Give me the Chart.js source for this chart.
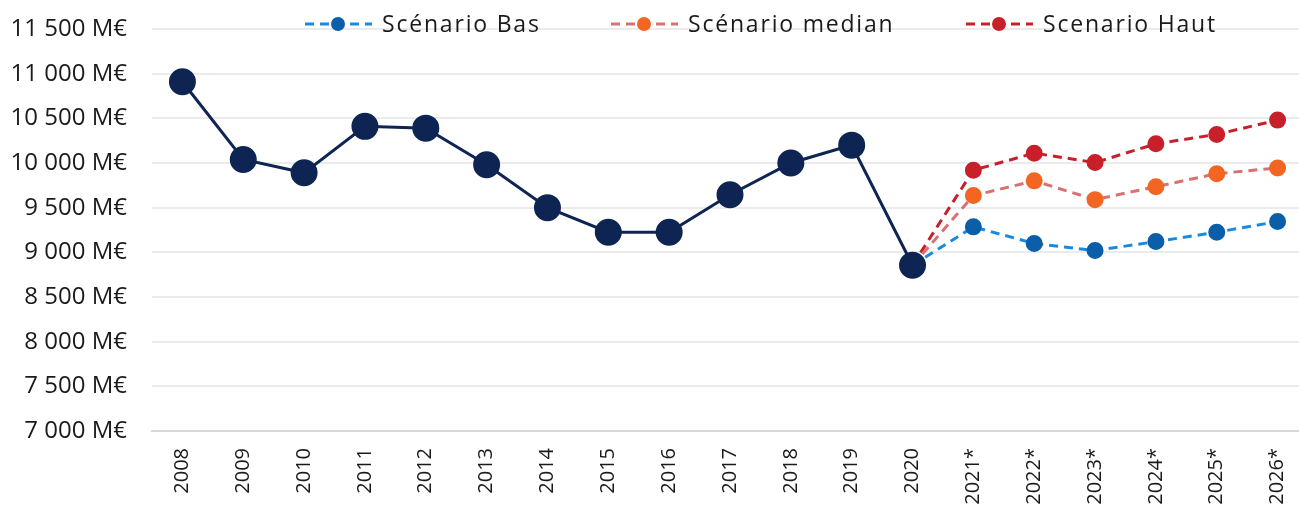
<!DOCTYPE html>
<html>
<head>
<meta charset="utf-8">
<script src="https://cdn.jsdelivr.net/npm/chart.js@4.4.1/dist/chart.umd.min.js"></script>
<style>
  html, body { margin: 0; padding: 0; background: #fff; overflow: hidden; }
  canvas { display: block; }
</style>
</head>
<body>
<canvas id="chartCanvas" width="1310" height="507"></canvas>
<script>
const years = ["2008", "2009", "2010", "2011", "2012", "2013", "2014", "2015", "2016", "2017",
  "2018", "2019", "2020", "2021*", "2022*", "2023*", "2024*", "2025*", "2026*"];

const historique = [10910, 10040, 9890, 10410, 10390, 9980, 9500, 9225, 9225, 9645,
  10000, 10200, 8855, null, null, null, null, null, null];

// scenarios start from the 2020 value
const scenarioBas = [null, null, null, null, null, null, null, null, null, null,
  null, null, 8855, 9285, 9100, 9020, 9120, 9225, 9345];
const scenarioMedian = [null, null, null, null, null, null, null, null, null, null,
  null, null, 8855, 9635, 9800, 9590, 9735, 9880, 9945];
const scenarioHaut = [null, null, null, null, null, null, null, null, null, null,
  null, null, 8855, 9920, 10110, 10005, 10215, 10320, 10480];

const yTicks = { min: 7000, max: 11500, step: 500 };

function fmt(v) {
  return String(v).replace(/\B(?=(\d{3})+(?!\d))/g, " ") + " M€";
}

function scenario(label, data, lineColor, pointColor) {
  return {
    label: label,
    data: data,
    borderColor: lineColor,
    backgroundColor: pointColor,
    pointBackgroundColor: pointColor,
    pointBorderColor: pointColor,
    borderWidth: 3,
    borderDash: [9, 6],
    pointRadius: ctx => ctx.dataIndex === 12 ? 0 : 7,
    pointHoverRadius: 7,
    tension: 0,
    fill: false
  };
}

// legend drawn by hand so it can sit over the top gridline
const legendPlugin = {
  id: "topLegend",
  afterDraw(chart) {
    const ctx = chart.ctx;
    const starts = [305, 611, 966];
    const y = 24;
    ctx.save();
    chart.data.datasets.slice(1).forEach((ds, i) => {
      const x = starts[i];
      ctx.strokeStyle = ds.borderColor;
      ctx.lineWidth = 3;
      ctx.setLineDash([9, 6]);
      ctx.beginPath();
      ctx.moveTo(x, y);
      ctx.lineTo(x + 67, y);
      ctx.stroke();
      ctx.setLineDash([]);
      ctx.fillStyle = ds.pointBackgroundColor;
      ctx.beginPath();
      ctx.arc(x + 33, y, 7, 0, Math.PI * 2);
      ctx.fill();
      ctx.fillStyle = "#1a1a1a";
      ctx.font = "23px 'Open Sans'";
      ctx.letterSpacing = "1.8px";
      ctx.textBaseline = "middle";
      ctx.textAlign = "left";
      ctx.fillText(ds.label, x + 77, y + 1);
    });
    ctx.restore();
  }
};

const chart = new Chart(document.getElementById("chartCanvas"), {
  type: "line",
  data: {
    labels: years,
    datasets: [
      {
        label: "Historique",
        data: historique,
        borderColor: "#0e2452",
        backgroundColor: "#0e2452",
        pointBackgroundColor: "#0e2452",
        pointBorderColor: "#0e2452",
        borderWidth: 3,
        pointRadius: 12,
        pointHoverRadius: 12,
        tension: 0,
        fill: false
      },
      scenario("Scénario Bas", scenarioBas, "#1a8ae0", "#0a5fa8"),
      scenario("Scénario median", scenarioMedian, "#d87272", "#f26522"),
      scenario("Scenario Haut", scenarioHaut, "#c8202a", "#c8202a")
    ]
  },
  options: {
    responsive: false,
    animation: false,
    layout: { autoPadding: false, padding: { top: 29, right: 2, left: 0, bottom: 0 } },
    plugins: {
      legend: { display: false },
      tooltip: { enabled: false }
    },
    scales: {
      x: {
        offset: true,
        grid: { display: false, drawTicks: false },
        border: { display: true, color: "#d9d9d9", width: 2 },
        ticks: {
          color: "#1a1a1a",
          font: { family: "'Open Sans'", size: 20 },
          minRotation: 90,
          maxRotation: 90,
          padding: 17,
          autoSkip: false
        },
        afterFit: s => { s.height = 76; s.paddingLeft = 0; s.paddingRight = 0; }
      },
      y: {
        min: yTicks.min,
        max: yTicks.max,
        grid: { color: "#ebebeb", lineWidth: 2, drawTicks: false },
        border: { display: false },
        ticks: {
          stepSize: yTicks.step,
          color: "#1a1a1a",
          font: { family: "'Open Sans'", size: 24 },
          padding: 25,
          callback: v => fmt(v)
        },
        afterFit: s => { s.width = 152; s.paddingTop = 0; s.paddingBottom = 0; }
      }
    }
  },
  plugins: [legendPlugin]
});
</script>
</body>
</html>
